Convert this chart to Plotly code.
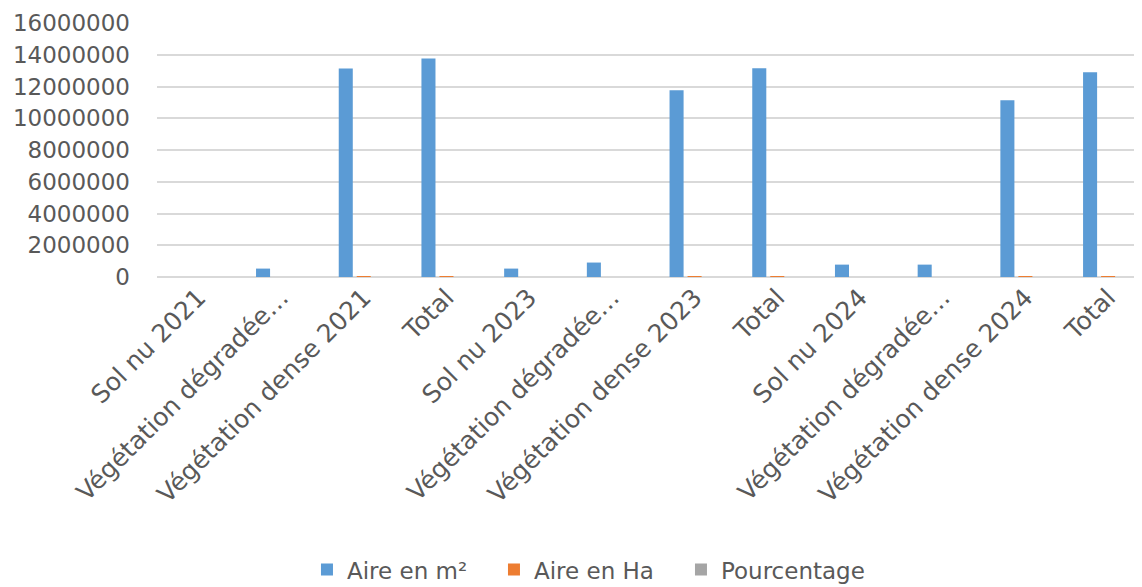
import plotly.graph_objects as go

categories = ["Sol nu 2021", "Végétation dégradée…", "Végétation dense 2021", "Total",
              "Sol nu 2023", "Végétation dégradée…", "Végétation dense 2023", "Total",
              "Sol nu 2024", "Végétation dégradée…", "Végétation dense 2024", "Total"]
aire_m2 = [0, 530000, 13130000, 13760000, 530000, 910000, 11760000, 13150000,
           780000, 780000, 11130000, 12890000]
aire_ha = [0, 53, 1313, 1376, 53, 91, 1176, 1315, 78, 78, 1113, 1289]
pourcentage = [0, 3.9, 95.4, 100, 4.0, 6.9, 89.4, 100, 6.1, 6.1, 86.3, 100]
y_ticks = [0, 2000000, 4000000, 6000000, 8000000, 10000000, 12000000, 14000000, 16000000]

series = [("Aire en m²", aire_m2, "#5b9bd5"),
          ("Aire en Ha", aire_ha, "#ed7d31"),
          ("Pourcentage", pourcentage, "#a5a5a5")]

xs = list(range(len(categories)))
fig = go.Figure()
for name, vals, col in series:
    fig.add_trace(go.Bar(x=xs, y=vals, name=name, marker=dict(color=col, line=dict(width=0))))

font_family = "DejaVu Sans"
fig.update_layout(
    width=1134, height=579,
    margin=dict(l=149, r=0, t=15, b=310, autoexpand=False),
    paper_bgcolor="white", plot_bgcolor="white",
    barmode="group", bargap=0.347, bargroupgap=0.22,
    font=dict(family=font_family, color="#595959", size=20),
    showlegend=True,
    legend=dict(orientation="h", xref="container", yref="container",
                x=0.511, xanchor="center", y=0.03, yanchor="middle",
                font=dict(size=23, color="#595959"), itemwidth=30,
                entrywidth=142, entrywidthmode="pixels",
                traceorder="normal"),
)
fig.update_xaxes(
    range=[-0.5, 11.41], tickmode="array", tickvals=xs, ticktext=categories,
    tickangle=-45, showgrid=False, zeroline=False, showline=False,
    ticks="", tickfont=dict(size=25, color="#595959", family=font_family),
    automargin=False,
)
fig.update_yaxes(
    range=[0, 16000000], tickmode="array", tickvals=y_ticks,
    ticktext=[str(v) for v in y_ticks],
    showgrid=True, gridcolor="#d9d9d9", gridwidth=1.5,
    zeroline=True, zerolinecolor="#d9d9d9", zerolinewidth=1.5,
    showline=False, ticks="", ticklabelstandoff=26,
    tickfont=dict(size=23, color="#595959", family=font_family),
    automargin=False,
)
fig.write_html("out.html")
